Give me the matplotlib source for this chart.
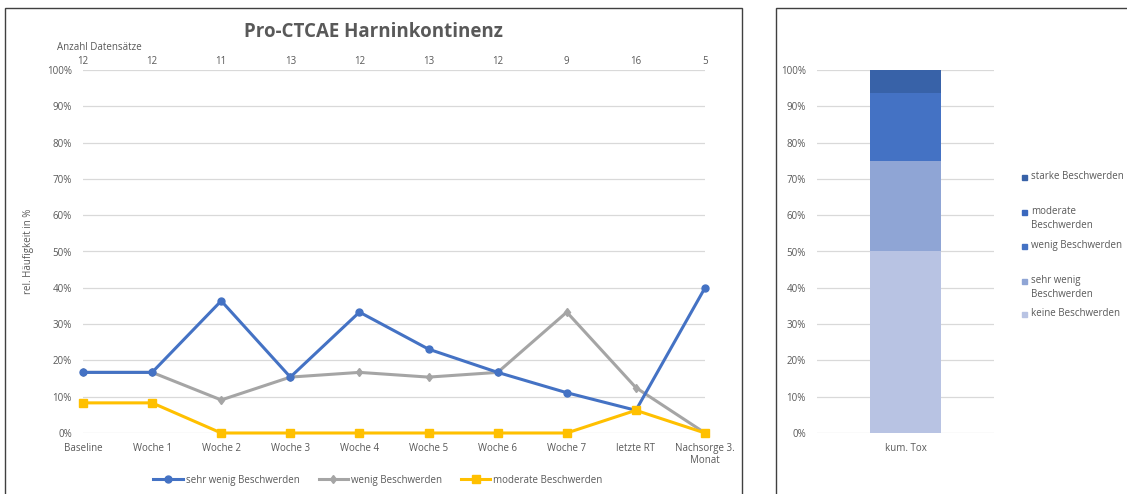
import numpy as np
import matplotlib
matplotlib.use("Agg")
import matplotlib.pyplot as plt
from matplotlib.patches import Rectangle
from matplotlib.ticker import PercentFormatter

plt.rcParams['font.family'] = ['Open Sans', 'DejaVu Sans']

# --- data -------------------------------------------------------------
kategorien = ['Baseline', 'Woche 1', 'Woche 2', 'Woche 3', 'Woche 4', 'Woche 5',
              'Woche 6', 'Woche 7', 'letzte RT', 'Nachsorge 3.\nMonat']
anzahl = [12, 12, 11, 13, 12, 13, 12, 9, 16, 5]
sehr_wenig = [16.7, 16.7, 36.4, 15.4, 33.3, 23.1, 16.7, 11.1, 6.25, 40.0]
wenig = [16.7, 16.7, 9.1, 15.4, 16.7, 15.4, 16.7, 33.3, 12.5, 0.0]
moderat = [8.3, 8.3, 0.0, 0.0, 0.0, 0.0, 0.0, 0.0, 6.25, 0.0]

kum_labels = ['keine Beschwerden', 'sehr wenig\nBeschwerden', 'wenig Beschwerden',
              'moderate\nBeschwerden', 'starke Beschwerden']
kum_werte = [50.0, 25.0, 18.75, 0.0, 6.25]
kum_farben = ['#B8C3E3', '#8FA5D5', '#4472C4', '#3A68BE', '#3862A8']

W, H = 1127, 494
fig = plt.figure(figsize=(W / 100, H / 100), dpi=100)

def fx(px):
    return px / W

def fy(py):
    return 1 - py / H

txt = '#595959'
grid = '#D9D9D9'

# panel frames
fig.add_artist(Rectangle((fx(5), fy(520)), fx(737), 512 / H, transform=fig.transFigure,
                         fill=False, edgecolor='#404040', linewidth=1.0))
fig.add_artist(Rectangle((fx(776), fy(520)), fx(400), 512 / H, transform=fig.transFigure,
                         fill=False, edgecolor='#404040', linewidth=1.0))

# --- left: line chart --------------------------------------------------
ax = fig.add_axes([fx(83), fy(433), fx(705 - 83), (433 - 70) / H])
x = np.arange(len(kategorien))
ax.plot(x, sehr_wenig, color='#4472C4', lw=2.2, marker='o', ms=5,
        label='sehr wenig Beschwerden', zorder=3, clip_on=False)
ax.plot(x, wenig, color='#A5A5A5', lw=2.2, marker='d', ms=4.5,
        label='wenig Beschwerden', zorder=2, clip_on=False)
ax.plot(x, moderat, color='#FFC000', lw=2.2, marker='s', ms=5.5,
        label='moderate Beschwerden', zorder=4, clip_on=False)

ax.set_xlim(0, len(kategorien) - 1)
ax.set_ylim(0, 100)
ax.set_yticks(np.arange(0, 101, 10))
ax.yaxis.set_major_formatter(PercentFormatter(decimals=0))
ax.set_xticks(x)
ax.set_xticklabels(kategorien)
ax.tick_params(axis='both', length=0, labelsize=7, colors=txt)
ax.tick_params(axis='x', pad=7)
ax.tick_params(axis='y', pad=8)
ax.grid(axis='y', color=grid, lw=0.9)
ax.set_axisbelow(True)
for s in ax.spines.values():
    s.set_visible(False)
ax.set_ylabel('rel. Häufigkeit in %', fontsize=7, color=txt, labelpad=8)
ax.yaxis.set_label_coords(-0.078, 0.5)

# number of records above each category
for xi, n in zip(x, anzahl):
    ax.annotate(str(n), (xi, 100), xytext=(0, 6), textcoords='offset points',
                ha='center', va='center', fontsize=7, color=txt, annotation_clip=False)
fig.text(fx(57), fy(47), 'Anzahl Datensätze', ha='left', va='center', fontsize=7, color=txt)
fig.text(fx(373), fy(32), 'Pro-CTCAE Harninkontinenz', ha='center', va='center',
         fontsize=13.5, fontweight='bold', color=txt)

fig.legend(loc='center', bbox_to_anchor=(fx(378), fy(480)), ncol=3, frameon=False,
           fontsize=7, labelcolor=txt, handlelength=3.0, handletextpad=0.3,
           columnspacing=2.0, markerscale=1.0)

# --- right: stacked bar ------------------------------------------------
ax2 = fig.add_axes([fx(817), fy(433), fx(994 - 817), (433 - 70) / H])
unten = 0.0
for wert, farbe in zip(kum_werte, kum_farben):
    ax2.bar([0], [wert], bottom=unten, width=0.40, color=farbe, zorder=2)
    unten += wert
ax2.set_xlim(-0.5, 0.5)
ax2.set_ylim(0, 100)
ax2.set_yticks(np.arange(0, 101, 10))
ax2.yaxis.set_major_formatter(PercentFormatter(decimals=0))
ax2.set_xticks([0])
ax2.set_xticklabels(['kum. Tox'])
ax2.tick_params(axis='both', length=0, labelsize=7, colors=txt)
ax2.tick_params(axis='x', pad=7)
ax2.tick_params(axis='y', pad=8)
ax2.grid(axis='y', color=grid, lw=0.9)
ax2.set_axisbelow(True)
for s in ax2.spines.values():
    s.set_visible(False)

# legend of the bar chart (top entry = last series)
leg_y = [177, 212, 246, 281, 314]
for (lab, farbe), py in zip(reversed(list(zip(kum_labels, kum_farben))), leg_y):
    fig.add_artist(Rectangle((fx(1022), fy(py + 3)), fx(5), 5 / H,
                             transform=fig.transFigure, color=farbe))
    fig.text(fx(1031), fy(py - 6), lab, ha='left', va='top', fontsize=7,
             color=txt, linespacing=1.35)

fig.savefig('out.png', dpi=100)
